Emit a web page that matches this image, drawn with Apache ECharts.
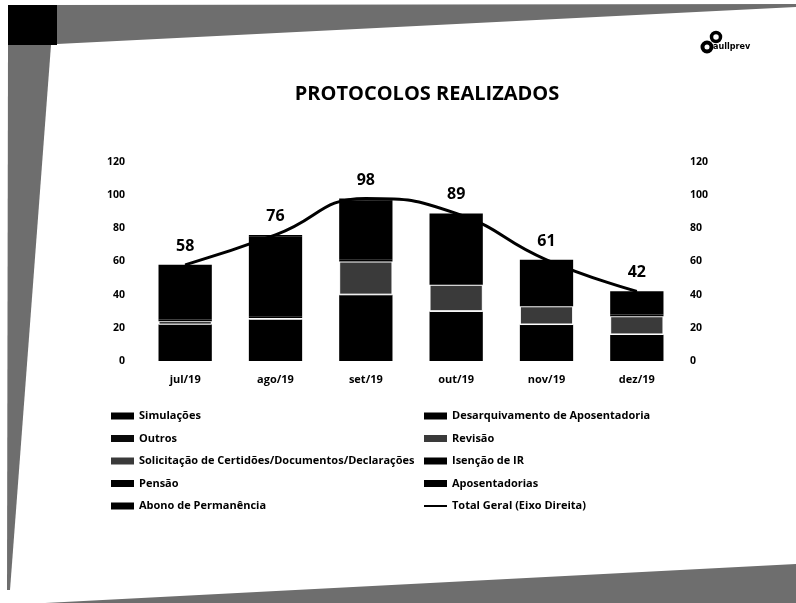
<!DOCTYPE html>
<html>
<head>
<meta charset="utf-8">
<script src="https://cdn.jsdelivr.net/npm/echarts@6/dist/echarts.min.js"></script>
<style>
  html, body { margin: 0; padding: 0; background: #fff; }
  #chart { width: 796px; height: 603px; }
</style>
</head>
<body>
<div id="chart"></div>
<script>
// meses
var months = ['jul/19', 'ago/19', 'set/19', 'out/19', 'nov/19', 'dez/19'];

// valores estimados de cada tipo de protocolo (da base para o topo)
var simulacoes      = [22, 25, 40, 30, 22, 16];
var desarquivamento = [0, 0, 0, 0, 0, 0];
var outros          = [2, 1, 0, 0, 0, 0];
var revisao         = [0, 0, 0, 0, 0, 0];
var solicitacao     = [0, 0, 20, 16, 11, 11];
var isencao         = [0, 0, 0, 0, 0, 0];
var pensao          = [1, 1, 1, 1, 0, 1];
var aposentadorias  = [33, 48, 36, 41, 28, 13];
var abono           = [0, 1, 1, 1, 0, 1];

// total geral (eixo direita)
var totalGeral = [58, 76, 98, 89, 61, 42];

var yTicks = [0, 20, 40, 60, 80, 100, 120];

var FONT = '"Open Sans"';

function barSerie(name, data, color, border) {
  return {
    name: name,
    type: 'bar',
    stack: 'total',
    data: data,
    barCategoryGap: '41%',
    itemStyle: {
      color: color,
      borderColor: '#fff',
      borderWidth: border ? 1 : 0
    }
  };
}

var legendText = { fontFamily: FONT, fontWeight: 'bold', fontSize: 11, color: '#000', lineHeight: 14 };

var myChart = echarts.init(document.getElementById('chart'));

var option = {
  backgroundColor: '#fff',
  animation: false,
  title: {
    text: 'PROTOCOLOS REALIZADOS',
    left: 422,
    top: 79,
    textAlign: 'center',
    textStyle: { fontFamily: FONT, fontWeight: 'bold', fontSize: 20, color: '#000' }
  },
  legend: [
    {
      orient: 'vertical',
      left: 111,
      top: 409,
      padding: 0,
      icon: 'rect',
      itemWidth: 23,
      itemHeight: 7,
      itemGap: 8.5,
      itemStyle: { borderWidth: 0 },
      textStyle: legendText,
      data: ['Simulações', 'Outros', 'Solicitação de Certidões/Documentos/Declarações', 'Pensão', 'Abono de Permanência']
    },
    {
      orient: 'vertical',
      left: 424,
      top: 409,
      padding: 0,
      itemWidth: 23,
      itemHeight: 7,
      itemGap: 8.5,
      itemStyle: { borderWidth: 0 },
      textStyle: legendText,
      data: [
        { name: 'Desarquivamento de Aposentadoria', icon: 'rect' },
        { name: 'Revisão', icon: 'rect' },
        { name: 'Isenção de IR', icon: 'rect' },
        { name: 'Aposentadorias', icon: 'rect' },
        { name: 'Total Geral (Eixo Direita)', icon: 'path://M0,0 L23,0 L23,2 L0,2 Z' }
      ]
    }
  ],
  grid: { left: 140, right: 114, top: 162, bottom: 242 },
  xAxis: {
    type: 'category',
    data: months,
    axisLine: { show: false },
    axisTick: { show: false },
    axisLabel: { fontFamily: FONT, fontWeight: 'bold', fontSize: 11, color: '#000', margin: 13 }
  },
  yAxis: [
    {
      type: 'value',
      min: yTicks[0],
      max: yTicks[yTicks.length - 1],
      interval: 20,
      splitLine: { show: false },
      axisLine: { show: false },
      axisTick: { show: false },
      axisLabel: { fontFamily: FONT, fontWeight: 'bold', fontSize: 10.5, color: '#000', margin: 15 }
    },
    {
      type: 'value',
      min: yTicks[0],
      max: yTicks[yTicks.length - 1],
      interval: 20,
      splitLine: { show: false },
      axisLine: { show: false },
      axisTick: { show: false },
      axisLabel: { fontFamily: FONT, fontWeight: 'bold', fontSize: 10.5, color: '#000', margin: 8 }
    }
  ],
  series: [
    barSerie('Simulações', simulacoes, '#000', false),
    barSerie('Desarquivamento de Aposentadoria', desarquivamento, '#000', false),
    barSerie('Outros', outros, '#0a0a0a', true),
    barSerie('Revisão', revisao, '#3a3a3a', false),
    barSerie('Solicitação de Certidões/Documentos/Declarações', solicitacao, '#3a3a3a', true),
    barSerie('Isenção de IR', isencao, '#000', false),
    barSerie('Pensão', pensao, '#000', false),
    barSerie('Aposentadorias', aposentadorias, '#000', false),
    barSerie('Abono de Permanência', abono, '#000', false),
    {
      name: 'Total Geral (Eixo Direita)',
      type: 'line',
      yAxisIndex: 1,
      data: totalGeral,
      smooth: true,
      symbol: 'circle',
      symbolSize: 1,
      showSymbol: true,
      z: 5,
      lineStyle: { color: '#000', width: 3 },
      itemStyle: { color: '#000' },
      label: {
        show: true,
        position: 'top',
        distance: 10,
        fontFamily: FONT,
        fontWeight: 'bold',
        fontSize: 16,
        color: '#000'
      }
    }
  ],
  graphic: [
    // faixa superior digitalizada
    { type: 'polygon', silent: true, z: -1, shape: { points: [[57, 5], [796, 4], [796, 7], [57, 44]] }, style: { fill: '#6e6e6e' } },
    { type: 'rect', silent: true, z: -1, shape: { x: 8, y: 5, width: 49, height: 40 }, style: { fill: '#000' } },
    // faixa esquerda
    { type: 'polygon', silent: true, z: -1, shape: { points: [[8, 45], [51, 45], [10, 590], [7, 590]] }, style: { fill: '#6e6e6e' } },
    // faixa inferior
    { type: 'polygon', silent: true, z: -1, shape: { points: [[45, 603], [796, 564], [796, 603]] }, style: { fill: '#6e6e6e' } },
    // logo
    { type: 'circle', silent: true, shape: { cx: 716, cy: 37, r: 4.5 }, style: { fill: 'none', stroke: '#000', lineWidth: 3.5 } },
    { type: 'circle', silent: true, shape: { cx: 707, cy: 47, r: 4.5 }, style: { fill: 'none', stroke: '#000', lineWidth: 4 } },
    { type: 'text', silent: true, left: 713, top: 42, style: { text: 'aullprev', font: 'bold 9px "DejaVu Sans Condensed", sans-serif', fill: '#000' } }
  ]
};

myChart.setOption(option);
</script>
</body>
</html>
